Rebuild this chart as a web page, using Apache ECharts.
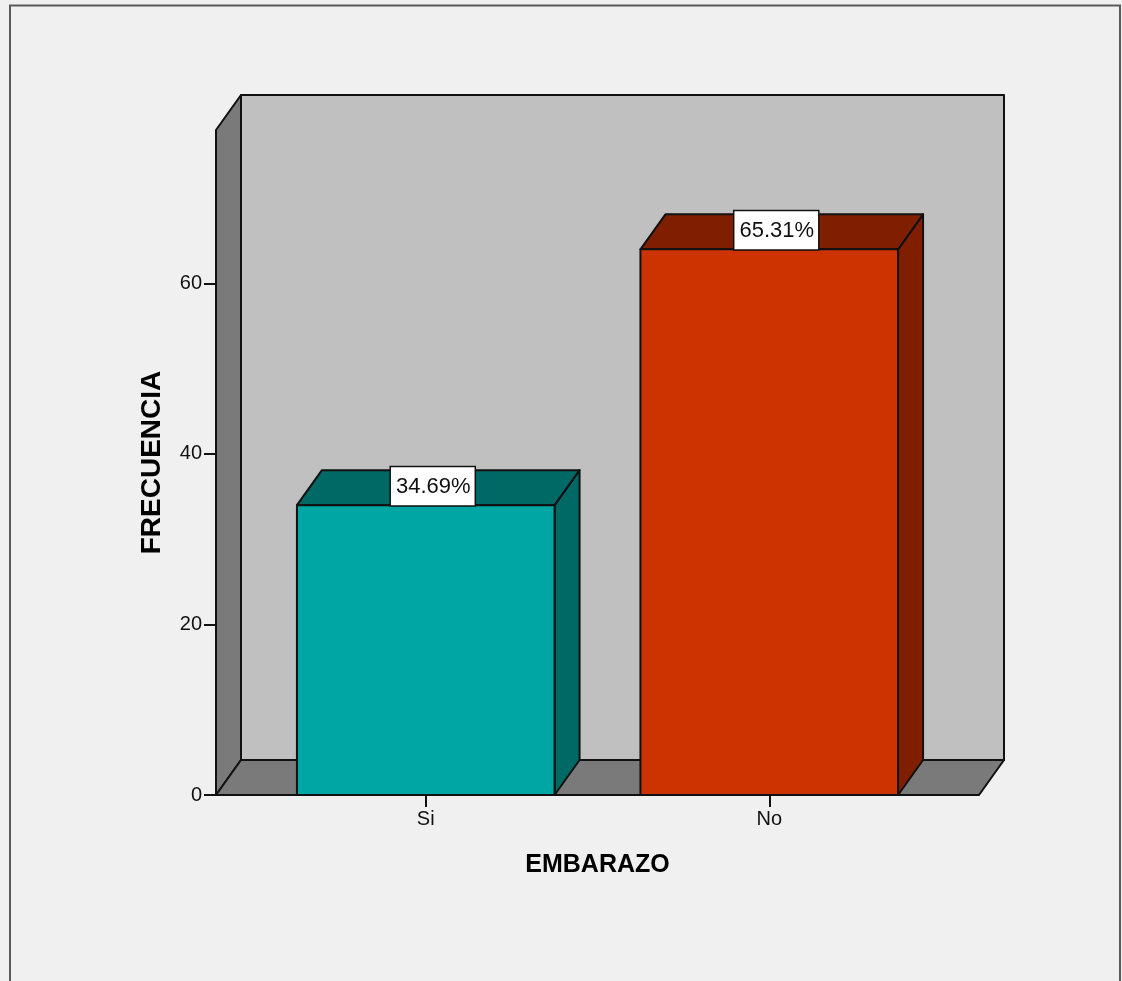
<!DOCTYPE html>
<html>
<head>
<meta charset="utf-8">
<title>EMBARAZO</title>
<script src="https://cdn.jsdelivr.net/npm/echarts@6/dist/echarts.min.js"></script>
<style>
  html, body { margin: 0; padding: 0; background: #f0f0f0; }
  #chart { width: 1122px; height: 981px; }
</style>
</head>
<body>
<div id="chart"></div>
<script>
// Pregnancy (EMBARAZO) frequencies
const categories = ['Si', 'No'];
const frequencies = [34, 64];
const yTicks = [0, 20, 40, 60];
const yMax = 78;

const total = frequencies.reduce((a, b) => a + b, 0);
const percentLabels = frequencies.map(v => (v / total * 100).toFixed(2) + '%');

const FONT = "'Liberation Sans', Arial, sans-serif";
// 3D depth offset of the box (pixels) and how far the walls reach past the bars' bands
const DEPTH_X = 25;
const DEPTH_Y = 35;
const WALL_PAD = 38;

const frontColors = ['#00a6a3', '#cc3300'];
const shadeColors = ['#006966', '#7f1f00'];
const EDGE = { stroke: '#111', lineWidth: 2, lineJoin: 'round' };

function renderWalls(params, api) {
  const cs = params.coordSys;
  const x0 = cs.x - WALL_PAD;
  const x1 = cs.x + cs.width + WALL_PAD;
  const yTop = cs.y;
  const yBase = cs.y + cs.height;
  return {
    type: 'group',
    children: [
      { // back wall
        type: 'rect',
        shape: { x: x0 + DEPTH_X, y: yTop - DEPTH_Y, width: x1 - x0, height: yBase - yTop },
        style: Object.assign({ fill: '#c0c0c0' }, EDGE)
      },
      { // left wall
        type: 'polygon',
        shape: { points: [[x0, yTop], [x0 + DEPTH_X, yTop - DEPTH_Y], [x0 + DEPTH_X, yBase - DEPTH_Y], [x0, yBase]] },
        style: Object.assign({ fill: '#7a7a7a' }, EDGE)
      },
      { // floor
        type: 'polygon',
        shape: { points: [[x0, yBase], [x0 + DEPTH_X, yBase - DEPTH_Y], [x1 + DEPTH_X, yBase - DEPTH_Y], [x1, yBase]] },
        style: Object.assign({ fill: '#7a7a7a' }, EDGE)
      }
    ]
  };
}

function renderBar(params, api) {
  const idx = api.value(0);
  const val = api.value(1);
  const top = api.coord([idx, val]);
  const base = api.coord([idx, 0]);
  const bw = api.size([1, 0])[0] * 0.75;
  const xl = top[0] - bw / 2;
  const xr = top[0] + bw / 2;
  const yt = top[1];
  const yb = base[1];
  const front = frontColors[params.dataIndex];
  const shade = shadeColors[params.dataIndex];
  return {
    type: 'group',
    children: [
      {
        type: 'polygon',
        shape: { points: [[xr, yt], [xr + DEPTH_X, yt - DEPTH_Y], [xr + DEPTH_X, yb - DEPTH_Y], [xr, yb]] },
        style: Object.assign({ fill: shade }, EDGE)
      },
      {
        type: 'polygon',
        shape: { points: [[xl, yt], [xl + DEPTH_X, yt - DEPTH_Y], [xr + DEPTH_X, yt - DEPTH_Y], [xr, yt]] },
        style: Object.assign({ fill: shade }, EDGE)
      },
      {
        type: 'rect',
        shape: { x: xl, y: yt, width: bw, height: yb - yt },
        style: Object.assign({ fill: front }, EDGE)
      },
      {
        type: 'text',
        x: top[0] + 7,
        y: yt,
        style: {
          text: percentLabels[params.dataIndex],
          fill: '#111',
          font: '22px ' + FONT,
          align: 'center',
          verticalAlign: 'bottom',
          backgroundColor: '#ffffff',
          borderColor: '#111',
          borderWidth: 1.5,
          padding: [9, 4, 7, 5]
        }
      }
    ]
  };
}

const chart = echarts.init(document.getElementById('chart'), null, { renderer: 'canvas' });
chart.setOption({
  backgroundColor: '#f0f0f0',
  animation: false,
  graphic: [{
    type: 'rect',
    shape: { x: 10, y: 5.5, width: 1110, height: 990 },
    style: { fill: 'none', stroke: '#5a5a5a', lineWidth: 2 },
    z: 100
  }],
  grid: { left: 254, right: 181, top: 130, bottom: 186 },
  xAxis: {
    type: 'category',
    data: categories,
    axisLine: { show: false },
    axisTick: { show: true, alignWithLabel: true, length: 12, lineStyle: { color: '#111', width: 2 } },
    axisLabel: { fontSize: 20, color: '#111', fontFamily: FONT, margin: 14 },
    name: 'EMBARAZO',
    nameLocation: 'middle',
    nameGap: 58,
    nameTextStyle: { fontSize: 25, fontWeight: 'bold', color: '#000', fontFamily: FONT }
  },
  yAxis: {
    type: 'value',
    min: 0,
    max: yMax,
    offset: WALL_PAD,
    splitLine: { show: false },
    axisLine: { show: false },
    axisTick: { show: true, length: 12, customValues: yTicks, lineStyle: { color: '#111', width: 2 } },
    axisLabel: { fontSize: 20, color: '#111', fontFamily: FONT, margin: 14, customValues: yTicks },
    name: 'FRECUENCIA',
    nameLocation: 'middle',
    nameGap: 50,
    nameTextStyle: { fontSize: 28, fontWeight: 'bold', color: '#000', fontFamily: FONT }
  },
  series: [
    {
      type: 'custom',
      name: 'walls',
      clip: false,
      silent: true,
      z: 1,
      renderItem: renderWalls,
      data: [[0, 0]]
    },
    {
      type: 'custom',
      name: 'FRECUENCIA',
      clip: false,
      z: 2,
      renderItem: renderBar,
      data: categories.map((c, i) => [i, frequencies[i]])
    }
  ]
});
</script>
</body>
</html>
